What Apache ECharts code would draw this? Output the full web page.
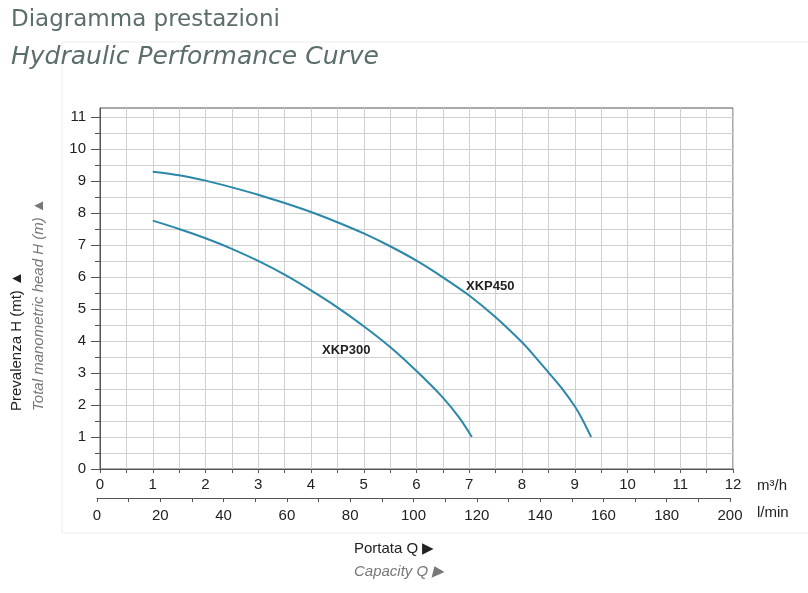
<!DOCTYPE html>
<html><head><meta charset="utf-8">
<script src="https://cdn.jsdelivr.net/npm/echarts@6/dist/echarts.min.js"></script>
<style>html,body{margin:0;padding:0;background:#fff}#c{width:808px;height:593px}</style>
</head><body><div id="c"></div>
<script>
// ---- data ----
const seriesNames = ['XKP300', 'XKP450'];
const xkp300Q = [1, 1.5, 2, 2.5, 3, 3.5, 4, 4.5, 5, 5.5, 6, 6.5, 6.82, 7.05];
const xkp300H = [7.76, 7.50, 7.21, 6.88, 6.50, 6.07, 5.58, 5.05, 4.46, 3.81, 3.06, 2.23, 1.58, 1.0];
const xkp450Q = [1, 1.5, 2, 2.5, 3, 3.5, 4, 4.5, 5, 5.5, 6, 6.5, 7, 7.5, 8, 8.2, 8.5, 8.77, 9, 9.15, 9.31];
const xkp450H = [9.29, 9.18, 9.01, 8.80, 8.57, 8.31, 8.03, 7.71, 7.36, 6.96, 6.51, 5.99, 5.42, 4.74, 3.96, 3.6, 3.02, 2.49, 1.96, 1.53, 1.0];
const labelAnchors = [[4.2, 3.72], [6.93, 5.72]];
const m3hTicks = [0, 1, 2, 3, 4, 5, 6, 7, 8, 9, 10, 11, 12];
const lminTicks = [0, 20, 40, 60, 80, 100, 120, 140, 160, 180, 200];
const headTicks = [0, 1, 2, 3, 4, 5, 6, 7, 8, 9, 10, 11];
const headHalfTicks = [0, 0.5, 1, 1.5, 2, 2.5, 3, 3.5, 4, 4.5, 5, 5.5, 6, 6.5, 7, 7.5, 8, 8.5, 9, 9.5, 10, 10.5, 11];
const m3hHalfTicks = [0, 0.5, 1, 1.5, 2, 2.5, 3, 3.5, 4, 4.5, 5, 5.5, 6, 6.5, 7, 7.5, 8, 8.5, 9, 9.5, 10, 10.5, 11, 11.5, 12];
const lminMinorTicks = [0, 10, 20, 30, 40, 50, 60, 70, 80, 90, 100, 110, 120, 130, 140, 150, 160, 170, 180, 190, 200];

const FONT = 'Liberation Sans, Arial, sans-serif';
const TITLE_FONT = 'DejaVu Sans, Noto Sans, sans-serif';
const AXIS_C = '#555';
const GRID_C = '#d0d0d0';
const CURVE_C = '#2a88a8';

function zip(a, b) { return a.map((v, i) => [v, b[i]]); }
function intOnly(v) { return Number.isInteger(v) ? String(v) : ''; }
function lminFmt(v) { return (v % 20 === 0) ? String(v) : ''; }

const chart = echarts.init(document.getElementById('c'));

function curve(name, q, h, anchor) {
  return {
    type: 'line', name: name, xAxisIndex: 0, yAxisIndex: 0,
    data: zip(q, h), smooth: 0.25, showSymbol: false, symbol: 'none',
    lineStyle: { color: CURVE_C, width: 2 }, silent: true,
    markPoint: {
      silent: true, symbol: 'circle', symbolSize: 1,
      itemStyle: { color: 'rgba(0,0,0,0)' },
      label: { show: true, position: 'right', distance: 0, formatter: name,
        fontFamily: FONT, fontWeight: 'bold', fontSize: 13, color: '#222' },
      data: [{ coord: anchor }]
    }
  };
}

const option = {
  animation: false,
  backgroundColor: '#fff',
  grid: [
    { left: 100, right: 75, top: 108, bottom: 124, show: true, borderColor: AXIS_C, borderWidth: 1, backgroundColor: 'transparent' },
    { left: 97, right: 78, top: 108, bottom: 124, show: false }
  ],
  xAxis: [
    { type: 'value', gridIndex: 0, position: 'bottom', min: 0, max: 12, interval: 0.5,
      axisLine: { show: true, onZero: false, lineStyle: { color: AXIS_C } },
      axisTick: { show: true, length: 4, lineStyle: { color: AXIS_C }, customValues: m3hHalfTicks },
      axisLabel: { margin: 8, fontSize: 15, color: '#222', fontFamily: FONT, formatter: intOnly, customValues: m3hTicks },
      splitLine: { show: true, lineStyle: { color: GRID_C, width: 1 } },
      name: 'm³/h', nameLocation: 'end', nameGap: 24,
      nameTextStyle: { fontSize: 15, color: '#222', fontFamily: FONT, verticalAlign: 'top', padding: [9, 0, 0, 0] }
    },
    { type: 'value', gridIndex: 1, position: 'bottom', offset: 29, min: 0, max: 200, interval: 10,
      axisLine: { show: true, onZero: false, lineStyle: { color: AXIS_C } },
      axisTick: { show: true, length: 4, lineStyle: { color: AXIS_C }, customValues: lminMinorTicks },
      axisLabel: { margin: 10, fontSize: 15, color: '#222', fontFamily: FONT, formatter: lminFmt, customValues: lminTicks },
      splitLine: { show: false },
      name: 'l/min', nameLocation: 'end', nameGap: 27,
      nameTextStyle: { fontSize: 15, color: '#222', fontFamily: FONT, verticalAlign: 'top', padding: [7, 0, 0, 0] }
    }
  ],
  yAxis: [
    { type: 'value', gridIndex: 0, position: 'left', min: 0, max: 11.28, interval: 0.5,
      axisLine: { show: true, onZero: false, lineStyle: { color: AXIS_C } },
      axisTick: { show: true, length: 5, lineStyle: { color: AXIS_C }, customValues: headHalfTicks },
      axisLabel: { margin: 14, fontSize: 15, color: '#222', fontFamily: FONT, formatter: intOnly, customValues: headTicks },
      splitLine: { show: true, lineStyle: { color: GRID_C, width: 1 } }
    },
    { type: 'value', gridIndex: 0, position: 'left', min: 0, max: 11.28, interval: 1,
      axisLine: { show: false },
      axisTick: { show: true, length: 9, lineStyle: { color: AXIS_C }, customValues: headTicks },
      axisLabel: { show: false },
      splitLine: { show: false }
    },
    { type: 'value', gridIndex: 1, show: false, min: 0, max: 1, splitLine: { show: false } }
  ],
  series: [
    curve(seriesNames[0], xkp300Q, xkp300H, labelAnchors[0]),
    curve(seriesNames[1], xkp450Q, xkp450H, labelAnchors[1])
  ],
  graphic: [
    { type: 'polyline', silent: true, z: -1, shape: { points: [[808, 42], [62, 42], [62, 533], [808, 533]] },
      style: { stroke: '#ececec', fill: null, lineWidth: 1 } },
    { type: 'text', left: 11, top: 9, silent: true,
      style: { text: 'Diagramma prestazioni', fontFamily: TITLE_FONT, fontWeight: 'normal', fontSize: 23, fill: '#5b6d6c' } },
    { type: 'text', left: 11, top: 45, silent: true,
      style: { text: 'Hydraulic Performance Curve', fontFamily: TITLE_FONT, fontWeight: 'normal', fontStyle: 'italic', fontSize: 25, fill: '#5b6d6c' } },
    { type: 'text', x: 17, y: 411, rotation: Math.PI / 2, silent: true,
      style: { text: 'Prevalenza H (mt) ▲', fontFamily: FONT, fontSize: 15, fill: '#222', align: 'left', verticalAlign: 'middle' } },
    { type: 'text', x: 39, y: 411, rotation: Math.PI / 2, silent: true,
      style: { text: 'Total manometric head H (m) ▲', fontFamily: FONT, fontStyle: 'italic', fontSize: 15, fill: '#777', align: 'left', verticalAlign: 'middle' } },
    { type: 'text', x: 354, y: 549, silent: true,
      style: { text: 'Portata Q ▶', fontFamily: FONT, fontSize: 15, fill: '#222', align: 'left', verticalAlign: 'middle' } },
    { type: 'text', x: 354, y: 572, silent: true,
      style: { text: 'Capacity Q ▶', fontFamily: FONT, fontStyle: 'italic', fontSize: 15, fill: '#777', align: 'left', verticalAlign: 'middle' } }
  ]
};
chart.setOption(option);
</script>
</body></html>
